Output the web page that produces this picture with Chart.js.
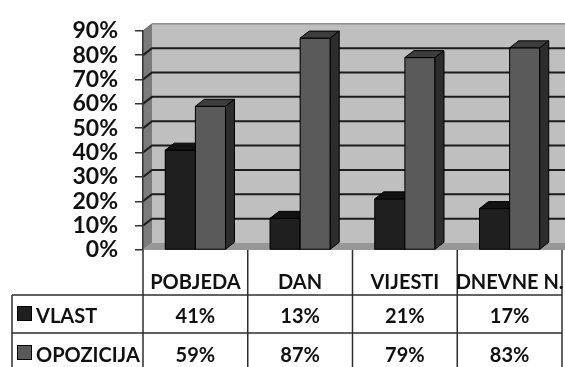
<!DOCTYPE html>
<html>
<head>
<meta charset="utf-8">
<script src="https://cdn.jsdelivr.net/npm/chart.js@4"></script>
<style>
  html, body { margin: 0; padding: 0; background: #fff; }
  #wrap { width: 565px; height: 367px; }
</style>
</head>
<body>
<div id="wrap"><canvas id="mediaChart" width="565" height="367"></canvas></div>
<script>
const categories = ['POBJEDA', 'DAN', 'VIJESTI', 'DNEVNE N.'];
const vlast = [41, 13, 21, 17];
const opozicija = [59, 87, 79, 83];
const yTicks = [0, 10, 20, 30, 40, 50, 60, 70, 80, 90];

const FONT = 'Lato, "Open Sans", sans-serif';
const DX = 9, DY = 7;

// faces for 3d look: [front, top, side]
const faceColors = [
    ['#1f1f1f', '#121212', '#0b0b0b'],
    ['#5a5a5a', '#3d3d3d', '#2c2c2c']
];

const wallsPlugin = {
    id: 'walls',
    beforeDraw(chart) {
        const ctx = chart.ctx;
        const a = chart.chartArea;
        const y = chart.scales.y;
        const W = chart.width;
        ctx.save();
        // back wall
        ctx.fillStyle = '#bfbfbf';
        ctx.fillRect(a.left + DX, a.top - DY, W - a.left - DX, a.bottom - a.top);
        // side wall
        ctx.fillStyle = '#7b7b7b';
        ctx.beginPath();
        ctx.moveTo(a.left, a.top);
        ctx.lineTo(a.left + DX, a.top - DY);
        ctx.lineTo(a.left + DX, a.bottom - DY);
        ctx.lineTo(a.left, a.bottom);
        ctx.closePath();
        ctx.fill();
        // floor
        ctx.fillStyle = '#979797';
        ctx.beginPath();
        ctx.moveTo(a.left, a.bottom);
        ctx.lineTo(a.left + DX, a.bottom - DY);
        ctx.lineTo(W + DX, a.bottom - DY);
        ctx.lineTo(W, a.bottom);
        ctx.closePath();
        ctx.fill();
        // grid lines on side and back wall
        yTicks.forEach(v => {
            if (v === 0) return;
            const py = y.getPixelForValue(v);
            ctx.strokeStyle = v === 90 ? '#6a6a6a' : '#1c1c1c';
            ctx.lineWidth = v === 90 ? 1 : 2;
            ctx.beginPath();
            ctx.moveTo(a.left, py);
            ctx.lineTo(a.left + DX, py - DY);
            ctx.lineTo(W, py - DY);
            ctx.stroke();
        });
        ctx.restore();
    },
    afterDatasetsDraw(chart) {
        // redraw bars in dataset order with their top and side faces
        const ctx = chart.ctx;
        ctx.save();
        ctx.strokeStyle = '#000';
        ctx.lineWidth = 1;
        ctx.lineJoin = 'round';
        chart.data.datasets.forEach((ds, idx) => {
            const cols = faceColors[idx];
            chart.getDatasetMeta(idx).data.forEach(bar => {
                const x0 = bar.x - bar.width / 2;
                const x1 = bar.x + bar.width / 2;
                const top = bar.y, base = bar.base;
                // front
                ctx.fillStyle = cols[0];
                ctx.fillRect(x0, top, x1 - x0, base - top);
                ctx.strokeRect(x0, top, x1 - x0, base - top);
                // top face
                ctx.fillStyle = cols[1];
                ctx.beginPath();
                ctx.moveTo(x0, top);
                ctx.lineTo(x0 + DX, top - DY);
                ctx.lineTo(x1 + DX, top - DY);
                ctx.lineTo(x1, top);
                ctx.closePath();
                ctx.fill();
                ctx.stroke();
                // side face
                ctx.fillStyle = cols[2];
                ctx.beginPath();
                ctx.moveTo(x1, top);
                ctx.lineTo(x1 + DX, top - DY);
                ctx.lineTo(x1 + DX, base - DY);
                ctx.lineTo(x1, base);
                ctx.closePath();
                ctx.fill();
                ctx.stroke();
            });
        });
        ctx.restore();
    },
    afterDraw(chart) {
        // data table under the plot
        const ctx = chart.ctx;
        const a = chart.chartArea;
        const xs = chart.scales.x;
        const colW = a.width / categories.length;
        const headY = 289, rowY = [323, 362];
        const lineY = [295, 333];
        const tableLeft = 12;
        ctx.save();
        ctx.strokeStyle = '#2e2e2e';
        ctx.lineWidth = 1.5;
        for (let i = 0; i <= categories.length; i++) {
            const px = a.left + i * colW;
            ctx.beginPath();
            ctx.moveTo(px, a.bottom);
            ctx.lineTo(px, chart.height);
            ctx.stroke();
        }
        lineY.forEach(ly => {
            ctx.beginPath();
            ctx.moveTo(tableLeft, ly);
            ctx.lineTo(a.right, ly);
            ctx.stroke();
        });
        ctx.beginPath();
        ctx.moveTo(tableLeft, lineY[0]);
        ctx.lineTo(tableLeft, chart.height);
        ctx.stroke();

        ctx.fillStyle = '#111';
        ctx.font = 'bold 20px ' + FONT;
        ctx.textBaseline = 'alphabetic';
        ctx.textAlign = 'center';
        categories.forEach((c, i) => {
            ctx.fillText(c, xs.getPixelForValue(i), headY);
        });
        const series = [vlast, opozicija];
        series.forEach((vals, s) => {
            vals.forEach((v, i) => {
                ctx.fillText(v + '%', xs.getPixelForValue(i), rowY[s]);
            });
        });
        // legend keys + series names
        ctx.textAlign = 'left';
        chart.data.datasets.forEach((ds, s) => {
            ctx.fillStyle = ds.backgroundColor;
            ctx.fillRect(17, rowY[s] - 17, 15, 15);
            ctx.strokeStyle = '#000';
            ctx.lineWidth = 1;
            ctx.strokeRect(17.5, rowY[s] - 16.5, 14, 14);
            ctx.fillStyle = '#111';
            ctx.fillText(ds.label, 36, rowY[s]);
        });
        ctx.restore();
    }
};

new Chart(document.getElementById('mediaChart'), {
    type: 'bar',
    data: {
        labels: categories,
        datasets: [
            {
                label: 'VLAST',
                data: vlast,
                backgroundColor: faceColors[0][0],
                borderColor: '#000',
                borderWidth: 1
            },
            {
                label: 'OPOZICIJA',
                data: opozicija,
                backgroundColor: faceColors[1][0],
                borderColor: '#000',
                borderWidth: 1
            }
        ]
    },
    options: {
        responsive: false,
        animation: false,
        events: [],
        layout: { padding: { left: 0, top: 20, right: 3, bottom: 117 } },
        datasets: { bar: { categoryPercentage: 0.575, barPercentage: 1 } },
        plugins: { legend: { display: false }, tooltip: { enabled: false } },
        scales: {
            x: {
                ticks: { display: false },
                grid: { display: false },
                border: { display: false },
                afterFit(scale) { scale.height = 0; }
            },
            y: {
                min: 0,
                max: 90,
                afterFit(scale) { scale.width = 143; },
                afterBuildTicks(scale) { scale.ticks = yTicks.map(v => ({ value: v })); },
                ticks: {
                    autoSkip: false,
                    padding: 17,
                    color: '#111',
                    font: { family: FONT, size: 23, weight: 'bold' },
                    callback: v => v + '%'
                },
                grid: {
                    drawOnChartArea: false,
                    drawTicks: true,
                    tickLength: 8,
                    color: '#333',
                    lineWidth: 1.5
                },
                border: { display: true, color: '#333', width: 1.5 }
            }
        }
    },
    plugins: [wallsPlugin]
});
</script>
</body>
</html>
